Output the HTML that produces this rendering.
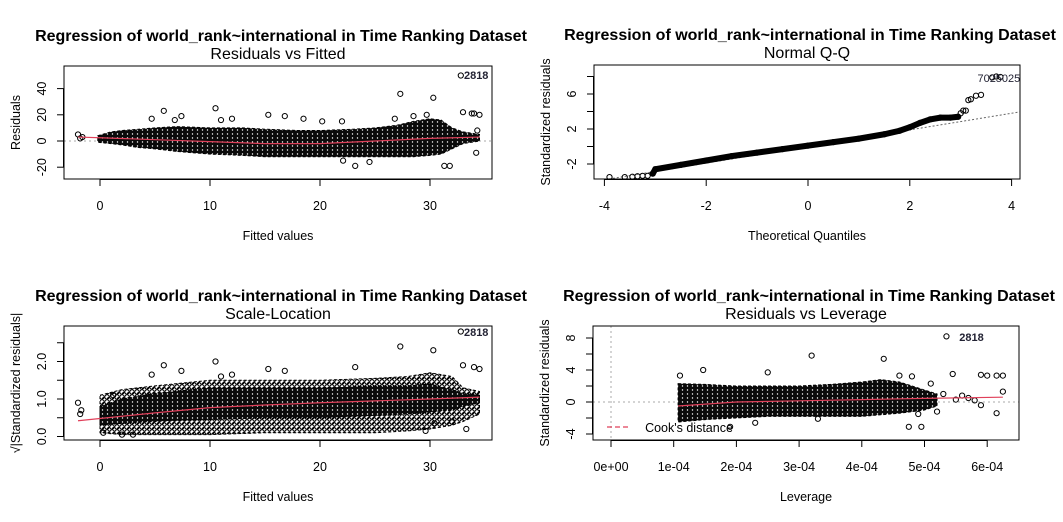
<!DOCTYPE html>
<html><head><meta charset="utf-8"><style>
body{margin:0;background:#fff;}
svg{display:block;font-family:"Liberation Sans",sans-serif;}
</style></head><body>
<svg id="c" width="1063" height="522" viewBox="0 0 1063 522">
<defs>
<pattern id="dense" patternUnits="userSpaceOnUse" width="5" height="4">
<rect width="5" height="4" fill="#0a0a0a"/>
<circle cx="2.5" cy="2" r="0.7" fill="#fff"/>
</pattern>
<pattern id="sparse" patternUnits="userSpaceOnUse" width="5" height="5">
<rect width="5" height="5" fill="#fff"/>
<circle cx="2" cy="2" r="2.3" fill="none" stroke="#000" stroke-width="1.2"/>
<circle cx="4.5" cy="4.5" r="2.3" fill="none" stroke="#000" stroke-width="1.2"/>
</pattern>
</defs>
</svg>
<script>
// ---- Panel 1: Residuals vs Fitted ----
const rvfEnvX = [-0.2, 1, 2, 3.5, 5, 7, 10, 13, 15, 18, 20, 23, 25, 27, 28.5, 30, 31, 32, 33, 34.5];
const rvfEnvHi = [4, 7, 8, 9, 10, 11, 10, 10, 9, 8, 8, 9, 10, 12, 15, 17, 16, 10, 7, 5];
const rvfEnvLo = [-1, -2, -3, -5, -6, -8, -10, -11, -12, -12, -12, -12, -12, -12, -12, -11, -10, -6, -2, 0];
const rvfPtX = [-2, -1.8, -1.6, 5.8, 10.5, 15.3, 27.3, 30.3, 32.8, 31.3, 31.8, 23.2, 34.2, 34, 34.5, 33, 16.8, 7.4, 4.7, 18.5, 20.2, 22, 29.7, 24.5, 22.1, 33.8, 34.3, 12, 11, 6.8, 26.8, 28.5];
const rvfPtY = [5, 2, 3, 23, 25, 20, 36, 33, 50, -19, -19, -19, -9, 21, 20, 22, 19, 19, 17, 17, 15, 15, 20, -16, -15, 21, 8, 17, 16, 16, 17, 19];
const rvfLoX = [-2, 0, 5, 10, 15, 20, 25, 30, 34.5];
const rvfLoY = [3, 2.5, 1, -0.5, -2, -2, 0, 2, 3];
// ---- Panel 2: Normal Q-Q ----
const qqX = [-3.9, -3.6, -3.45, -3.35, -3.25, -3.15, -3.05, -3, -2.5, -2, -1.5, -1, -0.5, 0, 0.5, 1, 1.5, 1.8, 2, 2.2, 2.4, 2.6, 2.8, 2.95, 3.0, 3.05, 3.1, 3.15, 3.2, 3.3, 3.4];
const qqY = [-3.5, -3.5, -3.45, -3.4, -3.35, -3.35, -3.1, -2.6, -2.1, -1.6, -1.1, -0.7, -0.3, 0.1, 0.5, 0.9, 1.4, 1.8, 2.2, 2.7, 3.1, 3.3, 3.3, 3.4, 3.8, 4.1, 4.1, 5.3, 5.4, 5.8, 5.9];
const qqLineSlope = 0.95;
const qqLineInt = 0;
// ---- Panel 3: Scale-Location ----
const slEnvX = [0, 2, 5, 10, 15, 20, 25, 28, 30, 32, 33, 34.5];
const slEnvHi = [1.1, 1.25, 1.35, 1.5, 1.5, 1.5, 1.55, 1.6, 1.7, 1.6, 1.3, 1.2];
const slEnvLo = [0.1, 0.05, 0.05, 0.05, 0.1, 0.1, 0.1, 0.15, 0.2, 0.3, 0.4, 0.6];
const slCoreHi = [0.8, 1.0, 1.15, 1.3, 1.3, 1.3, 1.35, 1.35, 1.4, 1.25, 1.15, 1.1];
const slCoreLo = [0.3, 0.35, 0.4, 0.45, 0.5, 0.5, 0.55, 0.6, 0.65, 0.7, 0.8, 0.9];
const slPtX = [-2, -1.8, -1.7, 32.8, 27.3, 30.3, 10.5, 5.8, 15.3, 7.4, 4.7, 23.2, 34, 33, 34.5, 16.8, 11, 12, 0.3, 1.2, 2, 3, 33.3, 32, 30.4, 29.6];
const slPtY = [0.9, 0.6, 0.7, 2.8, 2.4, 2.3, 2.0, 1.9, 1.8, 1.75, 1.65, 1.85, 1.85, 1.9, 1.8, 1.75, 1.6, 1.65, 0.1, 1.1, 0.05, 0.05, 0.2, 0.4, 0.35, 0.15];
const slLoX = [-2, 0, 5, 10, 15, 20, 25, 30, 34.5];
const slLoY = [0.42, 0.48, 0.63, 0.77, 0.84, 0.9, 0.95, 1.0, 1.05];
// ---- Panel 4: Residuals vs Leverage (x in 1e-4) ----
const rvlEnvX = [1.07, 1.5, 2, 2.5, 3, 3.5, 4, 4.3, 4.6, 5.0, 5.2];
const rvlEnvHi = [2.3, 2.2, 2.0, 2.0, 2.0, 2.2, 2.5, 2.8, 2.5, 1.5, 1.0];
const rvlEnvLo = [-2.5, -2.2, -2.0, -1.8, -1.8, -1.8, -1.8, -1.6, -1.4, -1.0, -0.5];
const rvlPtX = [1.1, 1.47, 2.5, 3.2, 4.35, 5.35, 4.75, 4.95, 5.45, 5.9, 6.0, 6.15, 6.25, 6.15, 5.1, 5.5, 5.7, 5.8, 5.9, 6.25, 4.6, 4.8, 5.2, 5.3, 5.6, 4.9, 1.9, 2.3, 3.3];
const rvlPtY = [3.3, 4.0, 3.7, 5.8, 5.4, 8.2, -3.1, -3.1, 3.5, 3.4, 3.3, 3.3, 3.3, -1.4, 2.3, 0.3, 0.5, 0.2, -0.4, 1.3, 3.3, 3.2, -1.2, 1.0, 0.8, -1.5, -3.1, -2.6, -2.1];
const rvlLoX = [1.07, 2, 3, 4, 5, 6.25];
const rvlLoY = [-0.5, 0, 0.15, 0.3, 0.45, 0.6];

const svg = document.getElementById('c');
const NS = 'http://www.w3.org/2000/svg';
function el(tag, attrs, parent) {
  const e = document.createElementNS(NS, tag);
  for (const k in attrs) e.setAttribute(k, attrs[k]);
  (parent || svg).appendChild(e);
  return e;
}
function txt(str, x, y, size, extra, parent) {
  const t = el('text', Object.assign({x: x, y: y, 'font-size': size, 'text-anchor': 'middle', fill: '#000'}, extra || {}), parent);
  t.textContent = str;
  return t;
}
function makePanel(cfg) {
  const g = el('g', {});
  
  
  const sx = v => cfg.x0 + (v - cfg.xa) * cfg.kx;
  const sy = v => cfg.y0 - (v - cfg.ya) * cfg.ky;
  const cx = (cfg.L + cfg.R) / 2;
  const t1 = txt('Regression of world_rank~international in Time Ranking Dataset', cx + 3, cfg.T - 25, 16, {'font-weight': 'bold'}, g);
  
  
  const t2 = txt(cfg.sub, cx, cfg.T - 7, 16, {}, g);
  
  
  const clipId = 'clip-' + cfg.name;
  const cp = el('clipPath', {id: clipId}, g);
  el('rect', {x: cfg.L, y: cfg.T, width: cfg.R - cfg.L, height: cfg.B - cfg.T}, cp);
  const plot = el('g', {'clip-path': 'url(#' + clipId + ')'}, g);
  
  
  return {g, plot, sx, sy};
}
function axes(p, cfg) {
  const {g, sx, sy} = p;
  el('rect', {x: cfg.L, y: cfg.T, width: cfg.R - cfg.L, height: cfg.B - cfg.T, fill: 'none', stroke: '#000', 'stroke-width': 1}, g);
  const xa = el('g', {}, g);
  
  
  const xs = cfg.xticks;
  el('line', {x1: sx(xs[0]), x2: sx(xs[xs.length - 1]), y1: cfg.B + 0.5, y2: cfg.B + 0.5, stroke: '#000'}, xa);
  xs.forEach((v, i) => {
    el('line', {x1: sx(v), x2: sx(v), y1: cfg.B, y2: cfg.B + 7, stroke: '#000'}, xa);
    const l = txt(cfg.xlabels[i], sx(v), cfg.B + 31, 12.5, {}, xa);
    
    
  });
  const xt = txt(cfg.xtitle, (cfg.L + cfg.R) / 2, cfg.B + 61, 12.5, {}, g);
  
  
  const ya = el('g', {}, g);
  
  
  const ys = cfg.yticks;
  el('line', {x1: cfg.L - 0.5, x2: cfg.L - 0.5, y1: sy(ys[0]), y2: sy(ys[ys.length - 1]), stroke: '#000'}, ya);
  ys.forEach((v, i) => {
    el('line', {x1: cfg.L - 7, x2: cfg.L, y1: sy(v), y2: sy(v), stroke: '#000'}, ya);
    if (cfg.ylabels[i] !== '') {
      const X = cfg.L - 18, Y = sy(v);
      const l = txt(cfg.ylabels[i], X, Y, 12.5, {transform: 'rotate(-90 ' + X + ' ' + Y + ')'}, ya);
      
      
    }
  });
  const X = cfg.L - 48, Y = (cfg.T + cfg.B) / 2;
  const yt = txt(cfg.ytitle, X, Y + 4, 12.5, {transform: 'rotate(-90 ' + X + ' ' + Y + ')'}, g);
  
  
}
function envelope(p, xs, hi, lo, fill, name) {
  let d = xs.map((x, i) => (i ? 'L' : 'M') + p.sx(x) + ' ' + p.sy(hi[i])).join(' ');
  for (let i = xs.length - 1; i >= 0; i--) d += ' L' + p.sx(xs[i]) + ' ' + p.sy(lo[i]);
  const e = el('path', {d: d + ' Z', fill: fill, stroke: '#000', 'stroke-width': 1, 'stroke-dasharray': '3 2'}, p.plot);
  
  
}
function points(p, xs, ys, name) {
  xs.forEach((x, i) => {
    const c = el('circle', {cx: p.sx(x), cy: p.sy(ys[i]), r: 2.6, fill: 'none', stroke: '#000', 'stroke-width': 1}, p.plot);
    
    
  });
}
function line(p, xs, ys, attrs, name) {
  const d = xs.map((x, i) => (i ? 'L' : 'M') + p.sx(x) + ' ' + p.sy(ys[i])).join(' ');
  const e = el('path', Object.assign({d: d, fill: 'none'}, attrs), p.plot);
  
  
}
function hzero(p, cfg) {
  el('line', {x1: cfg.L, x2: cfg.R, y1: p.sy(0), y2: p.sy(0), stroke: '#aaa', 'stroke-dasharray': '2 3'}, p.plot);
}

// Panel 1
const c1 = {name: 'residuals-vs-fitted', sub: 'Residuals vs Fitted', L: 64, R: 492, T: 66, B: 179,
  x0: 100, xa: 0, kx: 11, y0: 141, ya: 0, ky: 1.31,
  xticks: [0, 10, 20, 30], xlabels: ['0', '10', '20', '30'], xtitle: 'Fitted values',
  yticks: [-20, 0, 20, 40], ylabels: ['-20', '0', '20', '40'], ytitle: 'Residuals'};
const p1 = makePanel(c1);
hzero(p1, c1);
envelope(p1, rvfEnvX, rvfEnvHi, rvfEnvLo, 'url(#dense)', 'residual-cloud');
points(p1, rvfPtX, rvfPtY, 'residual-point');
line(p1, rvfLoX, rvfLoY, {stroke: '#e0405a', 'stroke-width': 1.2}, 'lowess-line');
txt('2818', p1.sx(34.2), p1.sy(47.5), 11, {'font-weight': 'bold', fill: '#223'}, p1.g);
axes(p1, c1);

// Panel 2
const c2 = {name: 'normal-qq', sub: 'Normal Q-Q', L: 594, R: 1020, T: 65, B: 179,
  x0: 808, xa: 0, kx: 50.9, y0: 146.5, ya: 0, ky: 8.75,
  xticks: [-4, -2, 0, 2, 4], xlabels: ['-4', '-2', '0', '2', '4'], xtitle: 'Theoretical Quantiles',
  yticks: [-2, 0, 2, 4, 6, 8], ylabels: ['-2', '', '2', '', '6', ''], ytitle: 'Standardized residuals'};
const p2 = makePanel(c2);
line(p2, [-4.3, 4.3], [qqLineInt - 4.3 * qqLineSlope, qqLineInt + 4.3 * qqLineSlope], {stroke: '#666', 'stroke-dasharray': '2 2'}, 'qq-reference-line');
const bandX = qqX.filter(x => x >= -3.05 && x <= 2.95);
const bandY = qqY.filter((y, i) => qqX[i] >= -3.05 && qqX[i] <= 2.95);
line(p2, bandX, bandY, {stroke: '#000', 'stroke-width': 6, 'stroke-linecap': 'round'}, 'qq-point-band');
points(p2, qqX, qqY, 'qq-point');
points(p2, [3.62, 3.7, 3.78], [7.9, 8.0, 7.95], 'qq-outlier');
txt('7025025', p2.sx(3.75), p2.sy(7.4), 11, {fill: '#223'}, p2.g);
axes(p2, c2);

// Panel 3
const c3 = {name: 'scale-location', sub: 'Scale-Location', L: 64, R: 492, T: 326, B: 440,
  x0: 100, xa: 0, kx: 11, y0: 436.5, ya: 0, ky: 37.5,
  xticks: [0, 10, 20, 30], xlabels: ['0', '10', '20', '30'], xtitle: 'Fitted values',
  yticks: [0, 0.5, 1, 1.5, 2, 2.5], ylabels: ['0.0', '', '1.0', '', '2.0', ''], ytitle: '\u221A|Standardized residuals|'};
const p3 = makePanel(c3);
envelope(p3, slEnvX, slEnvHi, slEnvLo, 'url(#sparse)', 'scale-cloud');
envelope(p3, slEnvX, slCoreHi, slCoreLo, 'url(#dense)', 'scale-cloud-core');
points(p3, slPtX, slPtY, 'scale-point');
line(p3, slLoX, slLoY, {stroke: '#e0405a', 'stroke-width': 1.2}, 'lowess-line');
txt('2818', p3.sx(34.2), p3.sy(2.68), 11, {'font-weight': 'bold', fill: '#223'}, p3.g);
axes(p3, c3);

// Panel 4
const c4 = {name: 'residuals-vs-leverage', sub: 'Residuals vs Leverage', L: 593, R: 1019, T: 326, B: 440,
  x0: 611, xa: 0, kx: 62.7, y0: 402, ya: 0, ky: 8,
  xticks: [0, 1, 2, 3, 4, 5, 6], xlabels: ['0e+00', '1e-04', '2e-04', '3e-04', '4e-04', '5e-04', '6e-04'], xtitle: 'Leverage',
  yticks: [-4, -2, 0, 2, 4, 6, 8], ylabels: ['-4', '', '0', '', '4', '', '8'], ytitle: 'Standardized residuals'};
const p4 = makePanel(c4);
hzero(p4, c4);
el('line', {x1: p4.sx(0), x2: p4.sx(0), y1: c4.T, y2: c4.B, stroke: '#aaa', 'stroke-dasharray': '2 3'}, p4.plot);
envelope(p4, rvlEnvX, rvlEnvHi, rvlEnvLo, 'url(#dense)', 'leverage-cloud');
points(p4, rvlPtX, rvlPtY, 'leverage-point');
line(p4, rvlLoX, rvlLoY, {stroke: '#e0405a', 'stroke-width': 1.2}, 'lowess-line');
txt('2818', p4.sx(5.75), p4.sy(7.6), 11, {'font-weight': 'bold', fill: '#223'}, p4.g);
const lg = el('g', {}, p4.g);


el('line', {x1: 607, x2: 628, y1: 427, y2: 427, stroke: '#e0405a', 'stroke-dasharray': '5 3', 'stroke-width': 1.2}, lg);
txt("Cook's distance", 689, 432, 12.5, {}, lg);
axes(p4, c4);
</script>
</body></html>
